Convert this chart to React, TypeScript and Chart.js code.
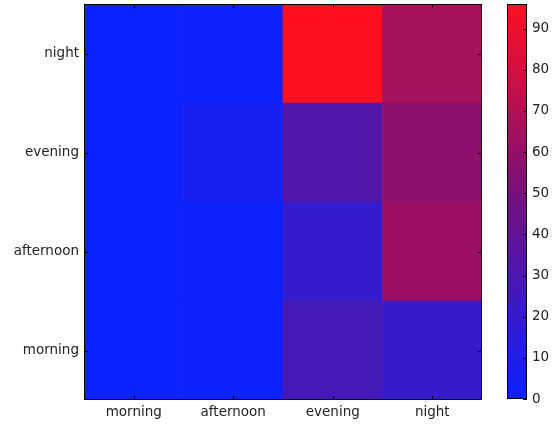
import React, { useEffect, useRef } from "react";
import { Chart, registerables } from "chart.js";

Chart.register(...registerables);

const xLabels = ["morning", "afternoon", "evening", "night"];
const yLabels = ["morning", "afternoon", "evening", "night"];
// values[row][col], row = y category (bottom to top), col = x category
const rowMorning = [0, 1, 27, 20];
const rowAfternoon = [0, 1, 19, 62];
const rowEvening = [0, 5, 33, 58];
const rowNight = [0, 1, 96, 66];
const values = [rowMorning, rowAfternoon, rowEvening, rowNight];
const cbMin = 0;
const cbMax = 96;
const cbTicks = [0, 10, 20, 30, 40, 50, 60, 70, 80, 90];

const STOPS: [number, number[]][] = [
  [0, [12, 34, 255]],
  [0.5, [114, 16, 128]],
  [1, [255, 16, 32]],
];
function cmap(v: number) {
  const t = Math.max(0, Math.min(1, (v - cbMin) / (cbMax - cbMin)));
  let i = 0;
  while (i < STOPS.length - 2 && t > STOPS[i + 1][0]) i++;
  const [t0, c0] = STOPS[i];
  const [t1, c1] = STOPS[i + 1];
  const f = (t - t0) / (t1 - t0);
  const c = c0.map((a, k) => Math.round(a + (c1[k] - a) * f));
  return `rgb(${c[0]},${c[1]},${c[2]})`;
}

const FONT = { family: "'DejaVu Sans', sans-serif", size: 13.5 };

const framePlugin = {
  id: "frameTicks",
  afterDraw(chart: any, _a: any, opts: any) {
    const { ctx, chartArea: a, scales } = chart;
    ctx.save();
    ctx.strokeStyle = "#000";
    ctx.lineWidth = 1;
    const L = opts.len || 4;
    if (opts.xTicks) {
      const xs = scales.x;
      xs.ticks.forEach((_t: any, i: number) => {
        const px = Math.round(xs.getPixelForTick(i)) + 0.5;
        ctx.beginPath();
        ctx.moveTo(px, a.bottom);
        ctx.lineTo(px, a.bottom - L);
        ctx.moveTo(px, a.top);
        ctx.lineTo(px, a.top + L);
        ctx.stroke();
      });
    }
    const ys = scales.y;
    ys.ticks.forEach((_t: any, i: number) => {
      const py = Math.round(ys.getPixelForTick(i)) + 0.5;
      ctx.beginPath();
      if (opts.leftTicks) {
        ctx.moveTo(a.left, py);
        ctx.lineTo(a.left + L, py);
      }
      ctx.moveTo(a.right, py);
      ctx.lineTo(a.right - L, py);
      ctx.stroke();
    });
    ctx.strokeRect(
      Math.round(a.left) + 0.5,
      Math.round(a.top) + 0.5,
      Math.round(a.right - a.left) - 1,
      Math.round(a.bottom - a.top) - 1
    );
    ctx.restore();
  },
};

export default function App() {
  const mainRef = useRef<HTMLCanvasElement>(null);
  const cbRef = useRef<HTMLCanvasElement>(null);

  useEffect(() => {
    const datasets = yLabels.map((_, r) => ({
      label: yLabels[r],
      data: values[r].map(() => [r - 0.5, r + 0.5]),
      backgroundColor: values[r].map((v) => cmap(v)),
      borderWidth: 0,
      barPercentage: 1,
      categoryPercentage: 1,
      grouped: false,
    }));
    const main = new Chart(mainRef.current!, {
      type: "bar",
      data: { labels: xLabels, datasets: datasets as any },
      plugins: [framePlugin],
      options: {
        animation: false,
        responsive: false,
        maintainAspectRatio: false,
        layout: { padding: { left: 0, right: 8, top: 4, bottom: 0 } },
        plugins: {
          legend: { display: false },
          tooltip: { enabled: false },
          frameTicks: { xTicks: true, leftTicks: true, len: 4 },
        } as any,
        scales: {
          x: {
            type: "category",
            grid: { display: false, drawTicks: false },
            border: { display: false },
            ticks: { color: "#222", font: FONT, padding: 4, maxRotation: 0 },
            afterFit: (s: any) => {
              s.height = 25;
              s.paddingLeft = 0;
              s.paddingRight = 0;
            },
          },
          y: {
            type: "linear",
            min: -0.5,
            max: 3.5,
            afterBuildTicks: (s: any) => {
              s.ticks = yLabels.map((_, i) => ({ value: i }));
            },
            grid: { display: false, drawTicks: false },
            border: { display: false },
            ticks: {
              color: "#222",
              font: FONT,
              padding: 5,
              callback: (v: any) => yLabels[v as number] ?? "",
            },
            afterFit: (s: any) => {
              s.width = 84;
              s.paddingTop = 0;
              s.paddingBottom = 0;
            },
          },
        },
      },
    });

    const cb = new Chart(cbRef.current!, {
      type: "bar",
      data: {
        labels: [""],
        datasets: [
          {
            data: [[cbMin, cbMax]] as any,
            backgroundColor: (ctx: any) => {
              const a = ctx.chart.chartArea;
              if (!a) return cmap(cbMin);
              const g = ctx.chart.ctx.createLinearGradient(0, a.bottom, 0, a.top);
              for (let i = 0; i <= 20; i++) {
                g.addColorStop(i / 20, cmap(cbMin + ((cbMax - cbMin) * i) / 20));
              }
              return g;
            },
            borderWidth: 0,
            barPercentage: 1,
            categoryPercentage: 1,
          },
        ],
      },
      plugins: [framePlugin],
      options: {
        animation: false,
        responsive: false,
        maintainAspectRatio: false,
        layout: { padding: { left: 17, right: 0, top: 4, bottom: 26 } },
        plugins: {
          legend: { display: false },
          tooltip: { enabled: false },
          frameTicks: { xTicks: false, leftTicks: false, len: 4 },
        } as any,
        scales: {
          x: { display: false },
          y: {
            type: "linear",
            position: "right",
            min: cbMin,
            max: cbMax,
            afterBuildTicks: (s: any) => {
              s.ticks = cbTicks.map((v) => ({ value: v }));
            },
            grid: { display: false, drawTicks: false },
            border: { display: false },
            ticks: { color: "#222", font: FONT, padding: 5 },
            afterFit: (s: any) => {
              s.width = 25;
              s.paddingTop = 0;
              s.paddingBottom = 0;
            },
          },
        },
      },
    });

    return () => {
      main.destroy();
      cb.destroy();
    };
  }, []);

  return (
    <div style={{ position: "fixed", left: 0, top: 0, width: 552, height: 425, background: "#fff" }}>
      <canvas ref={mainRef} width={490} height={425} style={{ position: "absolute", left: 0, top: 0 }} />
      <canvas ref={cbRef} width={62} height={425} style={{ position: "absolute", left: 490, top: 0 }} />
    </div>
  );
}
